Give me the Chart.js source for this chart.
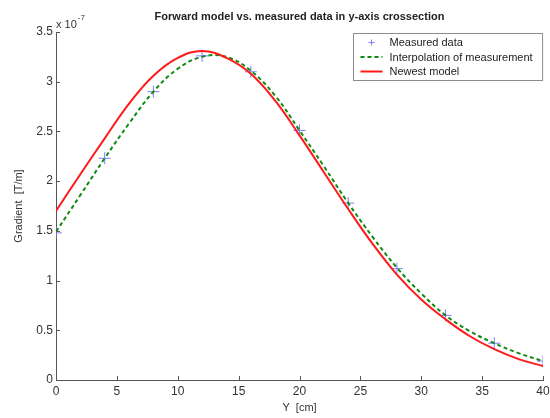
<!DOCTYPE html>
<html>
<head>
<meta charset="utf-8">
<script src="https://cdn.jsdelivr.net/npm/chart.js"></script>
<style>
  html, body { margin: 0; padding: 0; background: #fff; }
  #wrap { width: 550px; height: 418px; }
</style>
</head>
<body>
<div id="wrap"><canvas id="gradChart" width="550" height="418"></canvas></div>
<script>
// Forward model vs. measured data (values in units of 1e-7 T/m)

const measuredY = [0, 4, 8, 12, 16, 20, 24, 28, 32, 36, 40];
const measuredGradient = [1.48, 2.23, 2.90, 3.26, 3.10, 2.51, 1.78, 1.12, 0.65, 0.37, 0.19];

const interpY = [0, 2, 4, 6, 8, 10, 12, 14, 16, 18, 20, 22, 24, 26, 28, 30, 32, 34, 36, 38, 40];
const interpGradient = [1.49, 1.86, 2.23, 2.58, 2.90, 3.13, 3.25, 3.25, 3.11, 2.86, 2.51, 2.15, 1.78, 1.44, 1.13, 0.87, 0.65, 0.49, 0.37, 0.27, 0.19];

const modelY = [0, 2, 4, 6, 8, 10, 12, 14, 16, 18, 20, 22, 24, 26, 28, 30, 32, 34, 36, 38, 40];
const modelGradient = [1.70, 2.07, 2.43, 2.78, 3.06, 3.24, 3.31, 3.24, 3.08, 2.81, 2.46, 2.09, 1.72, 1.37, 1.06, 0.81, 0.61, 0.44, 0.31, 0.21, 0.14];

const xTicks = [0, 5, 10, 15, 20, 25, 30, 35, 40];
const yTicks = [0, 0.5, 1, 1.5, 2, 2.5, 3, 3.5];

const seriesLabels = ['Measured data', 'Interpolation of measurement', 'Newest model'];
const chartTitle = 'Forward model vs. measured data in y-axis crossection';

const FONT = '"Liberation Sans", Arial, Helvetica, sans-serif';
const AXIS_COLOR = '#555555';
const TEXT_COLOR = '#333333';

function toPoints(xs, ys) {
    return xs.map(function(x, i) { return { x: x, y: ys[i] }; });
}

// title, exponent label, inward ticks and boxed legend
const matlabLook = {
    id: 'matlabLook',
    afterDraw: function(chart) {
        const ctx = chart.ctx;
        const area = chart.chartArea;
        const xs = chart.scales.x;
        const ys = chart.scales.y;

        ctx.save();

        // inward tick marks
        ctx.strokeStyle = AXIS_COLOR;
        ctx.lineWidth = 1;
        ctx.beginPath();
        xTicks.forEach(function(v) {
            const px = Math.round(xs.getPixelForValue(v)) + 0.5;
            ctx.moveTo(px, area.bottom);
            ctx.lineTo(px, area.bottom - 4);
        });
        yTicks.forEach(function(v) {
            const py = Math.round(ys.getPixelForValue(v)) + 0.5;
            ctx.moveTo(area.left, py);
            ctx.lineTo(area.left + 4, py);
        });
        ctx.stroke();

        // title
        ctx.fillStyle = '#222';
        ctx.font = 'bold 11px ' + FONT;
        ctx.textAlign = 'center';
        ctx.textBaseline = 'middle';
        ctx.fillText(chartTitle, (area.left + area.right) / 2, 17);

        // exponent label
        ctx.fillStyle = TEXT_COLOR;
        ctx.font = '11px ' + FONT;
        ctx.textAlign = 'left';
        ctx.fillText('x 10', area.left, 25);
        const w10 = ctx.measureText('x 10').width;
        ctx.font = '8px ' + FONT;
        ctx.fillText('-7', area.left + w10 + 1, 18);

        // legend
        ctx.font = '11px ' + FONT;
        let maxW = 0;
        seriesLabels.forEach(function(t) { maxW = Math.max(maxW, ctx.measureText(t).width); });
        const rowH = 14.5;
        const sampleW = 22;
        const boxW = 7 + sampleW + 7 + maxW + 10;
        const boxH = 47;
        const bx = Math.round(area.right - 1 - boxW) + 0.5;
        const by = area.top + 1.5;
        ctx.fillStyle = '#fff';
        ctx.fillRect(bx, by, boxW, boxH);
        ctx.strokeStyle = '#8c8c8c';
        ctx.lineWidth = 1;
        ctx.strokeRect(bx, by, boxW, boxH);

        chart.data.datasets.forEach(function(ds, i) {
            const cy = by + 9 + i * rowH;
            const sx = bx + 7;
            ctx.save();
            if (ds.showLine === false) {
                ctx.strokeStyle = ds.borderColor;
                ctx.lineWidth = 1;
                const cx = sx + sampleW / 2;
                ctx.beginPath();
                ctx.moveTo(cx - 3, cy); ctx.lineTo(cx + 3, cy);
                ctx.moveTo(cx, cy - 3); ctx.lineTo(cx, cy + 3);
                ctx.stroke();
            } else {
                ctx.strokeStyle = ds.borderColor;
                ctx.lineWidth = ds.borderWidth;
                ctx.setLineDash(ds.borderDash || []);
                ctx.beginPath();
                ctx.moveTo(sx, cy);
                ctx.lineTo(sx + sampleW, cy);
                ctx.stroke();
            }
            ctx.restore();
            ctx.fillStyle = '#222';
            ctx.textAlign = 'left';
            ctx.textBaseline = 'middle';
            ctx.fillText(seriesLabels[i], sx + sampleW + 7, cy + 0.5);
        });

        ctx.restore();
    }
};

document.addEventListener('DOMContentLoaded', function() {
    const ctx = document.getElementById('gradChart').getContext('2d');

    new Chart(ctx, {
        type: 'scatter',
        data: {
            datasets: [
                {
                    label: seriesLabels[0],
                    data: toPoints(measuredY, measuredGradient),
                    showLine: false,
                    pointStyle: 'cross',
                    pointRadius: 6,
                    pointBorderWidth: 1,
                    borderColor: '#7f7fff',
                    backgroundColor: '#7f7fff',
                    order: 3
                },
                {
                    label: seriesLabels[1],
                    data: toPoints(interpY, interpGradient),
                    showLine: true,
                    borderColor: '#108a10',
                    borderWidth: 2,
                    borderDash: [4, 3],
                    pointRadius: 0,
                    tension: 0.4,
                    order: 2
                },
                {
                    label: seriesLabels[2],
                    data: toPoints(modelY, modelGradient),
                    showLine: true,
                    borderColor: '#ff1a1a',
                    borderWidth: 2,
                    pointRadius: 0,
                    tension: 0.4,
                    order: 1
                }
            ]
        },
        options: {
            responsive: false,
            animation: false,
            layout: {
                padding: { top: 32, right: 7, left: 0, bottom: 0 }
            },
            plugins: {
                legend: { display: false },
                tooltip: { enabled: false },
                title: { display: false }
            },
            scales: {
                x: {
                    type: 'linear',
                    min: 0,
                    max: 40,
                    afterFit: function(scale) {
                        scale.height = 38;
                        scale.paddingLeft = 0;
                        scale.paddingRight = 0;
                    },
                    afterBuildTicks: function(scale) {
                        scale.ticks = xTicks.map(function(v) { return { value: v }; });
                    },
                    grid: { display: false, drawTicks: false },
                    border: { display: true, color: AXIS_COLOR, width: 1 },
                    ticks: {
                        padding: 4,
                        color: TEXT_COLOR,
                        font: { family: FONT, size: 12 },
                        maxRotation: 0
                    },
                    title: {
                        display: true,
                        text: 'Y  [cm]',
                        color: TEXT_COLOR,
                        font: { family: FONT, size: 11 },
                        padding: { top: 0, bottom: 3 }
                    }
                },
                y: {
                    type: 'linear',
                    min: 0,
                    max: 3.5,
                    afterFit: function(scale) {
                        scale.width = 56;
                        scale.paddingTop = 0;
                        scale.paddingBottom = 0;
                    },
                    afterBuildTicks: function(scale) {
                        scale.ticks = yTicks.map(function(v) { return { value: v }; });
                    },
                    grid: { display: false, drawTicks: false },
                    border: { display: true, color: AXIS_COLOR, width: 1 },
                    ticks: {
                        padding: 3,
                        color: TEXT_COLOR,
                        font: { family: FONT, size: 12 },
                        callback: function(value) { return String(value); }
                    },
                    title: {
                        display: true,
                        text: 'Gradient  [T/m]',
                        color: TEXT_COLOR,
                        font: { family: FONT, size: 11 },
                        padding: { top: 12, bottom: 0 }
                    }
                }
            }
        },
        plugins: [matlabLook]
    });
});
</script>
</body>
</html>
